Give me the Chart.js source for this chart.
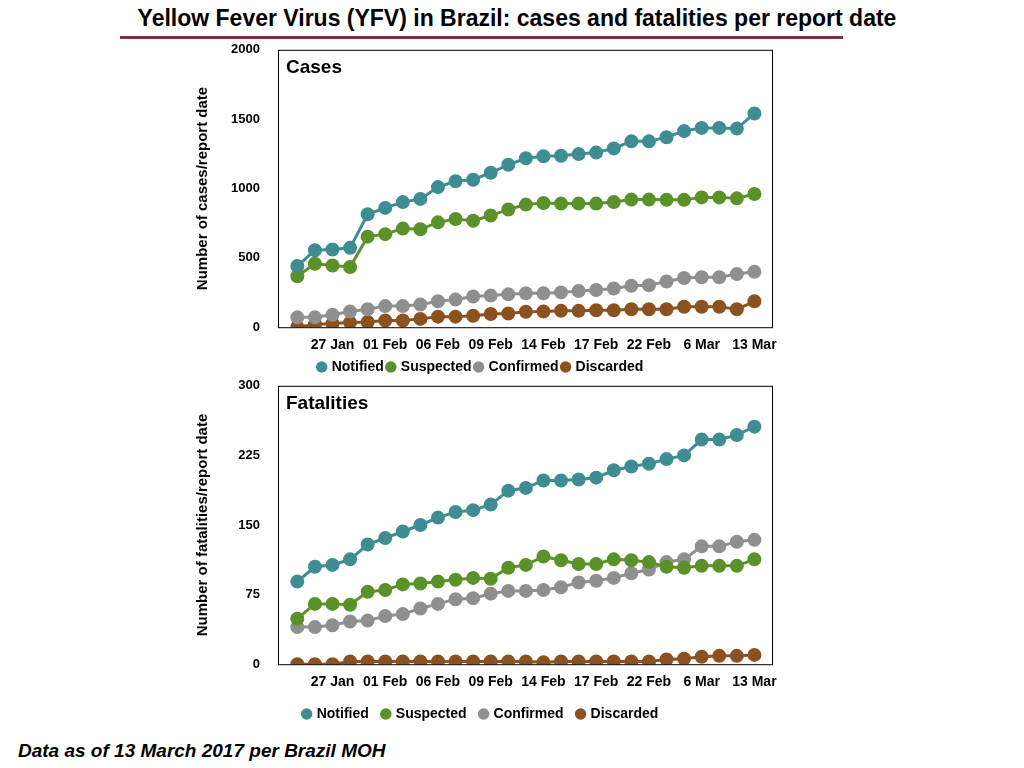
<!DOCTYPE html>
<html>
<head>
<meta charset="utf-8">
<script src="https://cdn.jsdelivr.net/npm/chart.js@4"></script>
<style>
  body { margin: 0; width: 1024px; height: 768px; background: #fff; position: relative; font-family: "Liberation Sans", Arial, sans-serif; }
  #titulo { position: absolute; top: 5px; left: 0; width: 1034px; text-align: center; font-weight: bold; font-size: 23px; }
  #linha { position: absolute; top: 36px; left: 120px; width: 723px; height: 3px; background: #7b2c4f; }
  #rodape { position: absolute; top: 740px; left: 18px; font-weight: bold; font-style: italic; font-size: 19px; }
  .caixa { position: absolute; left: 190px; width: 600px; }
</style>
</head>
<body>
<div id="titulo">Yellow Fever Virus (YFV) in Brazil: cases and fatalities per report date</div>
<div id="linha"></div>
<div class="caixa" style="top:32px;height:352px"><canvas id="graficoCasos"></canvas></div>
<div class="caixa" style="top:368px;height:363px"><canvas id="graficoMortes"></canvas></div>
<div id="rodape">Data as of 13 March 2017 per Brazil MOH</div>
<script>
// tick labels by point index (every 3 report dates)
const rotulos = { 2: '27 Jan', 5: '01 Feb', 8: '06 Feb', 11: '09 Feb', 14: '14 Feb', 17: '17 Feb', 20: '22 Feb', 23: '6 Mar', 26: '13 Mar' };

const series = ['Notified', 'Suspected', 'Confirmed', 'Discarded'];
const cores = ['#3d8d92', '#5a9229', '#8f8f8f', '#8b5220'];

// Cases
const casosNotified  = [441,555,560,572,814,860,902,925,1010,1052,1063,1114,1171,1218,1232,1236,1248,1259,1289,1340,1340,1370,1414,1437,1437,1432,1541];
const casosSuspected = [367,457,445,434,653,671,711,706,756,780,768,805,849,884,895,891,891,891,902,920,920,918,918,936,936,929,960];
const casosConfirmed = [71,71,90,113,129,152,152,164,187,199,221,228,237,244,244,251,261,268,279,298,302,330,355,360,360,383,399];
const casosDiscarded = [2,19,26,33,37,48,48,60,76,76,83,95,99,111,113,118,118,122,122,129,129,129,147,147,147,129,187];

// Fatalities
const mortesNotified  = [89,105,107,113,129,136,143,150,158,164,166,172,187,190,198,198,199,201,209,213,216,221,225,242,242,247,256];
const mortesSuspected = [49,65,65,64,78,80,86,87,89,91,93,92,104,107,116,112,108,108,113,112,110,105,104,106,106,106,113];
const mortesConfirmed = [40,40,42,46,47,52,54,60,65,70,71,76,79,79,80,83,88,90,93,98,102,110,113,127,127,132,134];
const mortesDiscarded = [0,0,0,3,3,3,3,3,3,3,3,3,3,3,2,3,3,3,3,3,3,5,6,8,9,9,10];

Chart.defaults.font.family = '"Liberation Sans", Arial, sans-serif';
Chart.defaults.font.weight = 'bold';
Chart.defaults.color = '#000';

const moldura = {
    id: 'moldura',
    afterDraw(chart) {
        const { ctx, chartArea: a } = chart;
        ctx.save();
        ctx.strokeStyle = '#000';
        ctx.lineWidth = 1;
        ctx.strokeRect(a.left + 0.5, a.top + 0.5, a.right - a.left, a.bottom - a.top);
        ctx.restore();
    }
};

const painel = {
    id: 'painel',
    afterDraw(chart, args, opts) {
        const { ctx, chartArea: a } = chart;
        ctx.save();
        ctx.font = 'bold 19px "Liberation Sans", Arial, sans-serif';
        ctx.fillStyle = '#000';
        ctx.textBaseline = 'top';
        ctx.fillText(opts.texto, a.left + 8, a.top + 8);
        ctx.restore();
    }
};

function criarGrafico(id, dados, painelTexto, tituloY, maxY, passoY, paddingLegenda) {
    new Chart(document.getElementById(id), {
        type: 'line',
        data: {
            datasets: dados.map((valores, i) => ({
                label: series[i],
                data: valores.map((v, j) => ({ x: j, y: v })),
                borderColor: cores[i],
                backgroundColor: cores[i],
                borderWidth: 3,
                pointRadius: 5.5,
                pointHoverRadius: 5.5
            }))
        },
        options: {
            responsive: true,
            maintainAspectRatio: false,
            animation: false,
            layout: { padding: { top: 8, right: 18 } },
            plugins: {
                legend: {
                    position: 'bottom',
                    labels: { usePointStyle: true, pointStyle: 'circle', boxWidth: 6, boxHeight: 6, padding: paddingLegenda, font: { size: 14 } }
                },
                tooltip: { enabled: false },
                painel: { texto: painelTexto }
            },
            scales: {
                x: {
                    type: 'linear',
                    min: -1.1,
                    max: 27,
                    grid: { display: false },
                    border: { display: false },
                    ticks: {
                        stepSize: 1,
                        autoSkip: false,
                        maxRotation: 0,
                        font: { size: 14 },
                        padding: 2,
                        callback: v => rotulos[v] || ''
                    },
                    afterBuildTicks: s => { s.ticks = s.ticks.filter(t => rotulos[t.value]); }
                },
                y: {
                    min: 0,
                    max: maxY,
                    grid: { display: false },
                    border: { display: false },
                    ticks: { stepSize: passoY, font: { size: 13 }, padding: 10, callback: v => String(v) },
                    title: { display: true, text: tituloY, font: { size: 15 } },
                    afterFit: s => { s.width = 88; }
                }
            }
        },
        plugins: [moldura, painel]
    });
}

criarGrafico('graficoCasos', [casosNotified, casosSuspected, casosConfirmed, casosDiscarded], 'Cases', 'Number of cases/report date', 2000, 500, 4);
criarGrafico('graficoMortes', [mortesNotified, mortesSuspected, mortesConfirmed, mortesDiscarded], 'Fatalities', 'Number of fatalities/report date', 300, 75, 14);
</script>
</body>
</html>
